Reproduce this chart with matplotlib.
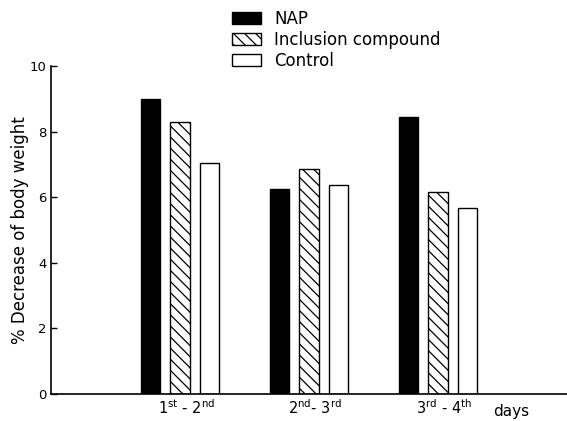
import matplotlib.pyplot as plt
import numpy as np

plt.rcParams['font.family'] = ['DejaVu Sans']
plt.rcParams['hatch.linewidth'] = 0.9

# values
periods = [r'1$^{\mathrm{st}}$ - 2$^{\mathrm{nd}}$',
           r'2$^{\mathrm{nd}}$- 3$^{\mathrm{rd}}$',
           r'3$^{\mathrm{rd}}$ - 4$^{\mathrm{th}}$']
nap = [9.0, 6.25, 8.45]
inclusion = [8.3, 6.85, 6.15]
control = [7.05, 6.38, 5.68]
series_names = ['NAP', 'Inclusion compound', 'Control']

fig = plt.figure(figsize=(5.67, 4.21), dpi=100)
ax = fig.add_axes([51 / 567, 27 / 421, 1 - 51 / 567, (394 - 66) / 421])

x = np.arange(1, len(periods) + 1)
w = 0.148
step = 0.226

ax.bar(x - step, nap, w, color='black', edgecolor='black', linewidth=1.0, label=series_names[0])
ax.bar(x, inclusion, w, color='white', edgecolor='black', linewidth=1.0,
       hatch='\\\\\\', label=series_names[1])
ax.bar(x + step, control, w, color='white', edgecolor='black', linewidth=1.0,
       label=series_names[2])

ax.set_xlim(0, 4)
ax.set_ylim(0, 10)
ax.set_yticks([0, 2, 4, 6, 8, 10])
ax.set_xticks(x + 0.05)
ax.set_xticklabels(periods, fontsize=10.5)
ax.tick_params(axis='x', length=0, pad=3)
ax.tick_params(axis='y', direction='in', length=4, width=1, pad=3, labelsize=9.5)

for side in ['top', 'right']:
    ax.spines[side].set_visible(False)
ax.spines['left'].set_linewidth(1.2)
ax.spines['bottom'].set_linewidth(1.2)

ax.set_ylabel('% Decrease of body weight', fontsize=12, labelpad=1)
ax.text(3.57, -0.3, 'days', fontsize=11, ha='center', va='top',
        transform=ax.transData)

fig.legend(loc='upper left', bbox_to_anchor=(232 / 567, 1 - 10 / 421),
           frameon=False, fontsize=12, handlelength=1.75, handleheight=0.7,
           handletextpad=0.8, labelspacing=0.18, borderpad=0, borderaxespad=0)

fig.savefig('out.png', dpi=100)
